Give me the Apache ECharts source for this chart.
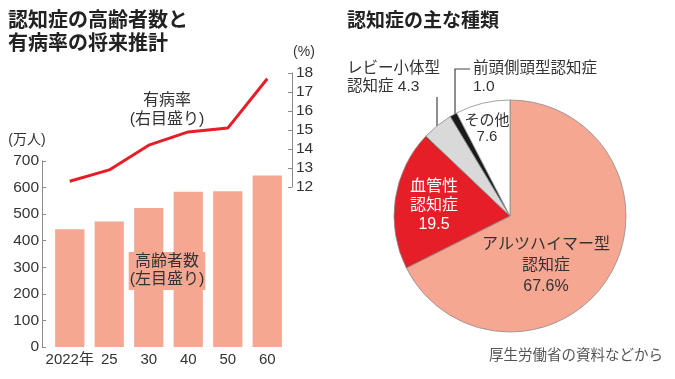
<!DOCTYPE html>
<html>
<head>
<meta charset="utf-8">
<script src="https://cdn.jsdelivr.net/npm/echarts@6/dist/echarts.min.js"></script>
<style>
html,body{margin:0;padding:0;background:#fff;}
#chart{width:675px;height:379px;}
</style>
</head>
<body>
<div id="chart"></div>
<script>
// ---- data ----
var years = ['2022年', '25', '30', '40', '50', '60'];
var elderlyCount = [443, 472, 523, 584, 586, 645];      // 万人 (left axis)
var prevalence = [12.3, 12.9, 14.2, 14.9, 15.1, 17.7];  // % (right axis)
var leftTicks = [0, 700, 100];
var rightTicks = [12, 18, 1];

var typeNames = ['アルツハイマー型\n認知症', '血管性\n認知症', 'レビー小体型\n認知症', '前頭側頭型認知症', 'その他'];
var typeShares = [67.6, 19.5, 4.3, 1.0, 7.6];

// ---- styling ----
var FONT = '"Noto Sans CJK JP", "Liberation Sans", sans-serif';
var NUMFONT = '"Liberation Sans", "Noto Sans CJK JP", sans-serif';
var SALMON = '#f5a792';
var RED = '#e61e28';
var sliceColors = [SALMON, RED, '#d9d9d9', '#1a1a1a', '#ffffff'];
var sep = ['\n', '\n', ' ', '\n', '\n'];

var chart = echarts.init(document.getElementById('chart'));

var pieData = typeNames.map(function (n, i) {
  return { name: n, value: typeShares[i], itemStyle: { color: sliceColors[i] } };
});

var labelPos = [
  { x: 546, y: 266, align: 'center', color: '#333', lh: 21, size: 16 },
  { x: 434, y: 206, align: 'center', color: '#fff', lh: 19, size: 16 },
  { x: 347, y: 78, align: 'left', color: '#333', lh: 18, size: 15.5, line: [[437, 133], [437, 110], [437, 97]] },
  { x: 473, y: 78, align: 'left', color: '#333', lh: 18, size: 15.5, line: [[455, 117], [455, 69], [470, 69]] },
  { x: 487, y: 129, align: 'center', color: '#333', lh: 16, size: 15 }
];

pieData.forEach(function (d, i) {
  var p = labelPos[i];
  d.label = {
    position: p.line ? 'outside' : 'inside',
    color: p.color,
    fontSize: p.size,
    lineHeight: p.lh,
    align: p.align
  };
  d.labelLine = { show: !!p.line };
});

var option = {
  backgroundColor: '#ffffff',
  animation: false,
  textStyle: { fontFamily: FONT },
  grid: [
    { left: 50, top: 161, width: 237, height: 186 },
    { left: 50, top: 73, width: 237, height: 114 }
  ],
  xAxis: [
    {
      type: 'category', gridIndex: 0, data: years,
      axisLine: { show: false }, axisTick: { show: false },
      axisLabel: { color: '#333', fontSize: 15, margin: 5, interval: 0, fontFamily: NUMFONT }
    },
    {
      type: 'category', gridIndex: 1, data: years, show: false
    }
  ],
  yAxis: [
    {
      type: 'value', gridIndex: 0, min: leftTicks[0], max: leftTicks[1], interval: leftTicks[2],
      position: 'left', offset: 8,
      axisLine: { show: true, lineStyle: { color: '#8a8a8a', width: 1 } },
      axisTick: { show: true, inside: true, length: 4, lineStyle: { color: '#8a8a8a' } },
      axisLabel: { color: '#333', fontSize: 15.5, margin: 3, fontFamily: NUMFONT },
      splitLine: { show: false }
    },
    {
      type: 'value', gridIndex: 1, min: rightTicks[0], max: rightTicks[1], interval: rightTicks[2],
      position: 'right', offset: 5,
      axisLine: { show: true, lineStyle: { color: '#8a8a8a', width: 1 } },
      axisTick: { show: true, inside: true, length: 4, lineStyle: { color: '#8a8a8a' } },
      axisLabel: { color: '#333', fontSize: 15.5, margin: 4, fontFamily: NUMFONT },
      splitLine: { show: false }
    }
  ],
  series: [
    {
      type: 'bar', xAxisIndex: 0, yAxisIndex: 0, data: elderlyCount,
      barCategoryGap: '26%',
      itemStyle: { color: SALMON },
      z: 2
    },
    {
      type: 'line', xAxisIndex: 1, yAxisIndex: 1, data: prevalence,
      symbol: 'none', smooth: false,
      lineStyle: { color: RED, width: 3 },
      z: 3
    },
    {
      type: 'pie',
      center: [510, 216],
      radius: 116,
      startAngle: 90,
      clockwise: true,
      data: pieData,
      itemStyle: { borderColor: '#8c8c8c', borderWidth: 0.8 },
      label: {
        show: true,
        fontFamily: NUMFONT,
        formatter: function (p) {
          return p.name + sep[p.dataIndex] + p.value.toFixed(1) + (p.dataIndex === 0 ? '%' : '');
        }
      },
      labelLine: { show: true, lineStyle: { color: '#444', width: 1.2 } },
      labelLayout: function (params) {
        var p = labelPos[params.dataIndex];
        var r = { x: p.x, y: p.y, align: p.align, verticalAlign: 'middle' };
        if (p.line) r.labelLinePoints = p.line;
        return r;
      },
      emphasis: { disabled: true },
      z: 2
    }
  ],
  graphic: [
    { type: 'text', left: 8, top: 8, style: { text: '認知症の高齢者数と\n有病率の将来推計', font: 'bold 20px ' + FONT, lineHeight: 23, fill: '#222' } },
    { type: 'text', left: 347, top: 8, style: { text: '認知症の主な種類', font: 'bold 19px ' + FONT, lineHeight: 23, fill: '#222' } },
    { type: 'text', x: 27, y: 140, style: { text: '(万人)', font: '14px ' + NUMFONT, fill: '#333', align: 'center', verticalAlign: 'middle' } },
    { type: 'text', x: 304, y: 52, style: { text: '(%)', font: '14px ' + NUMFONT, fill: '#333', align: 'center', verticalAlign: 'middle' } },
    { type: 'text', x: 167, y: 110, z: 10, style: { text: '有病率\n(右目盛り)', font: '16px ' + NUMFONT, lineHeight: 19, fill: '#333', align: 'center', verticalAlign: 'middle' } },
    { type: 'text', x: 167, y: 271, z: 10, style: { text: '高齢者数\n(左目盛り)', font: '16px ' + NUMFONT, lineHeight: 18, fill: '#333', align: 'center', verticalAlign: 'middle', backgroundColor: SALMON, padding: [1, 1] } },
    { type: 'text', right: 12, top: 347, style: { text: '厚生労働省の資料などから', font: '14.5px ' + FONT, fill: '#555' } }
  ]
};

chart.setOption(option);
</script>
</body>
</html>
